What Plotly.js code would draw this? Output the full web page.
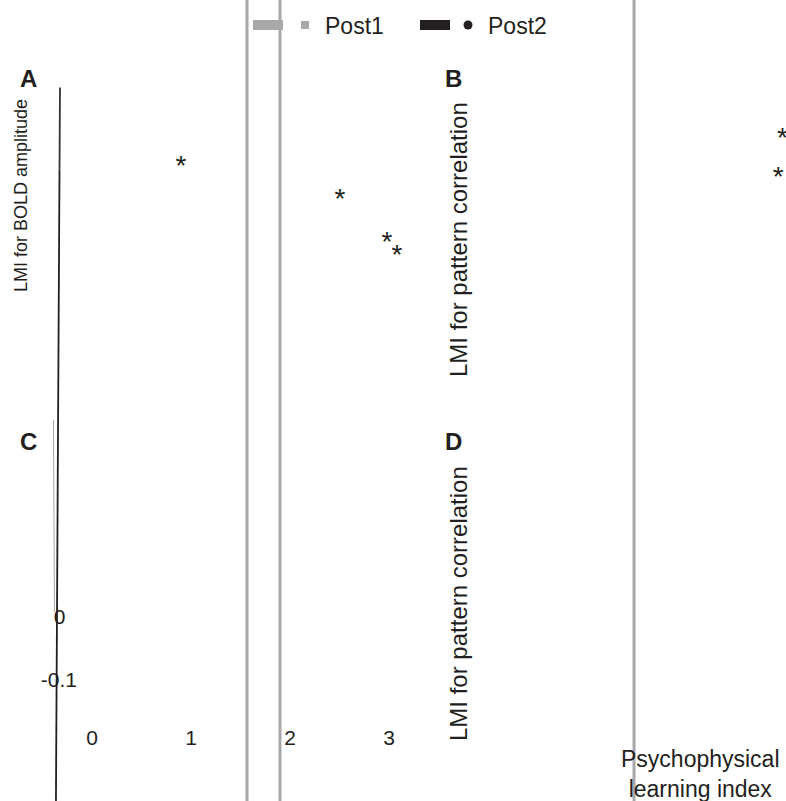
<!DOCTYPE html>
<html>
<head>
<meta charset="utf-8">
<script src="https://cdn.plot.ly/plotly-3.0.1.min.js"></script>
<style>html,body{margin:0;padding:0;background:#fff}#chart{width:786px;height:801px}</style>
</head>
<body>
<div id="chart"></div>
<script>
// ---- data ----
const xTickVals = [0, 1, 2, 3];
const xTickText = ["0", "1", "2", "3"];
const yTickVals = [0, -0.1];
const yTickText = ["0\u00a0\u00a0", "-0.1"];

// gray vertical bars (Post1) positions on the x scale
const post1BarX = [1.566, 1.899, 5.475];

// significance asterisks
const starX = [0.899, 2.505, 2.980, 3.081, 6.975, 6.93];
const starY = [0.712, 0.660, 0.592, 0.571, 0.757, 0.695];

// drawn axis strokes near the left edge
const axisTopX = [-0.323, -0.328];
const axisTopY = [0.840, 0.7095];
const axisMainX = [-0.328, -0.364];
const axisMainY = [0.7095, -0.292];
const axisGhostX = [-0.389, -0.379];
const axisGhostY = [0.3127, 0.0079];

const seriesNames = ["Post1", "Post2"];

// ---- scales ----
const X_RANGE = [-0.929, 7.01];
const Y_RANGE = [-0.292, 0.979];
const GRAY = "#a8a8aa";
const BLACK = "#231f20";

const traces = [];
post1BarX.forEach(v => {
  traces.push({x: [v, v], y: [Y_RANGE[0] - 0.05, Y_RANGE[1] + 0.05], mode: "lines",
    line: {color: GRAY, width: 3}, showlegend: false, hoverinfo: "skip"});
});
traces.push({x: axisTopX, y: axisTopY, mode: "lines", line: {color: "#333333", width: 1.8}, showlegend: false, hoverinfo: "skip"});
traces.push({x: axisMainX, y: axisMainY, mode: "lines", line: {color: BLACK, width: 1.8}, showlegend: false, hoverinfo: "skip"});
traces.push({x: axisGhostX, y: axisGhostY, mode: "lines", line: {color: "#9a9a9a", width: 0.9}, showlegend: false, hoverinfo: "skip"});
traces.push({x: starX, y: starY, mode: "text", text: starX.map(() => "*"),
  textfont: {family: "Liberation Sans, Arial, sans-serif", size: 28, color: BLACK},
  cliponaxis: false, showlegend: false, hoverinfo: "skip"});

// legend entries
traces.push({x: [null], y: [null], mode: "lines", line: {color: GRAY, width: 11}, name: " ", legend: "legend", showlegend: true});
traces.push({x: [null], y: [null], mode: "markers", marker: {symbol: "square", size: 8, color: GRAY}, name: seriesNames[0], legend: "legend2", showlegend: true});
traces.push({x: [null], y: [null], mode: "lines", line: {color: BLACK, width: 11}, name: " ", legend: "legend3", showlegend: true});
traces.push({x: [null], y: [null], mode: "markers", marker: {symbol: "circle", size: 9, color: BLACK}, name: seriesNames[1], legend: "legend4", showlegend: true});

const FONT = "Liberation Sans, Arial, Helvetica, sans-serif";
const legBase = (x) => ({x: x, xanchor: "left", y: 1 - 25 / 801, yanchor: "middle",
  bgcolor: "rgba(0,0,0,0)", font: {family: FONT, size: 23, color: BLACK}, orientation: "h"});

const W = 786, H = 801;
const ann = (text, x, y, size, opts) => Object.assign({text: text, x: x / W, y: 1 - y / H, xref: "paper", yref: "paper",
  showarrow: false, xanchor: "center", yanchor: "middle", font: {family: FONT, size: size, color: BLACK}}, opts || {});

const layout = {
  width: W, height: H,
  margin: {l: 0, r: 0, t: 0, b: 0, pad: 0},
  paper_bgcolor: "#fff", plot_bgcolor: "#fff",
  showlegend: true,
  legend: legBase(248 / W),
  legend2: legBase(285 / W),
  legend3: legBase(415 / W),
  legend4: legBase(448 / W),
  xaxis: {range: X_RANGE, tickvals: xTickVals, ticktext: xTickText, showgrid: false, zeroline: false,
    showline: false, ticks: "", anchor: "free", position: (H - 723) / H, automargin: false,
    tickfont: {family: FONT, size: 21, color: BLACK}},
  yaxis: {range: Y_RANGE, tickvals: yTickVals, ticktext: yTickText, showgrid: false, zeroline: false,
    showline: false, ticks: "", anchor: "free", position: 77 / W, automargin: false,
    tickfont: {family: FONT, size: 21, color: BLACK}},
  annotations: [
    ann("<b>A</b>", 28, 78, 24),
    ann("<b>B</b>", 453, 78, 24),
    ann("<b>C</b>", 28, 441, 24),
    ann("<b>D</b>", 453, 441, 24),
    ann("LMI for BOLD amplitude", 21, 196, 18, {textangle: -90}),
    ann("LMI for pattern correlation", 458, 240, 24, {textangle: -90}),
    ann("LMI for pattern correlation", 458, 604, 24, {textangle: -90}),
    ann("Psychophysical<br>learning index", 700, 774, 23)
  ]
};

Plotly.newPlot("chart", traces, layout, {displayModeBar: false, staticPlot: true});
</script>
</body>
</html>
